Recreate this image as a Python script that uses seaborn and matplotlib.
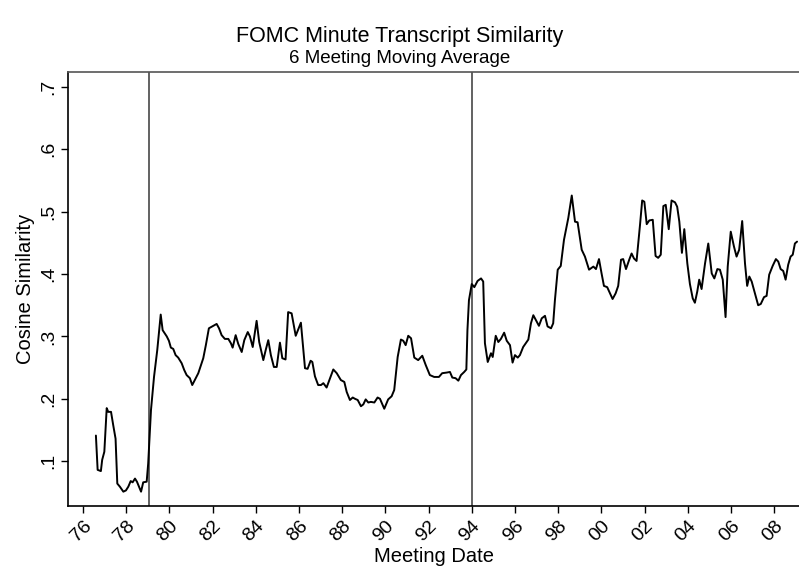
import numpy as np
import pandas as pd
import seaborn as sns
import matplotlib
matplotlib.use("Agg")
import matplotlib.pyplot as plt

# meeting date (decimal year) and 6-meeting moving average of cosine similarity
dates = [
    1976.60, 1976.68, 1976.83, 1976.89, 1976.99, 1977.10, 1977.17, 1977.30, 1977.40, 1977.51,
    1977.59, 1977.71, 1977.87, 1977.99, 1978.10, 1978.21, 1978.30, 1978.41, 1978.50, 1978.61,
    1978.69, 1978.79, 1978.95, 1979.02, 1979.15, 1979.29, 1979.44, 1979.60, 1979.69, 1979.88,
    1979.98, 1980.07, 1980.18, 1980.29, 1980.41, 1980.57, 1980.69, 1980.80, 1980.95, 1981.06,
    1981.21, 1981.34, 1981.57, 1981.69, 1981.83, 1982.03, 1982.19, 1982.30, 1982.42, 1982.57,
    1982.73, 1982.85, 1982.93, 1983.07, 1983.19, 1983.35, 1983.47, 1983.63, 1983.73, 1983.86,
    1984.04, 1984.16, 1984.35, 1984.46, 1984.58, 1984.70, 1984.84, 1984.97, 1985.12, 1985.23,
    1985.38, 1985.50, 1985.66, 1985.85, 1986.09, 1986.28, 1986.40, 1986.54, 1986.62, 1986.74,
    1986.89, 1987.02, 1987.13, 1987.28, 1987.44, 1987.59, 1987.75, 1987.94, 1988.10, 1988.21,
    1988.36, 1988.49, 1988.59, 1988.72, 1988.87, 1988.98, 1989.09, 1989.21, 1989.33, 1989.49,
    1989.64, 1989.75, 1989.95, 1990.13, 1990.29, 1990.41, 1990.57, 1990.72, 1990.83, 1990.94,
    1991.06, 1991.19, 1991.34, 1991.52, 1991.71, 1991.87, 1992.06, 1992.26, 1992.48, 1992.63,
    1992.84, 1992.99, 1993.10, 1993.25, 1993.38, 1993.50, 1993.65, 1993.75, 1993.80, 1993.87,
    1994.00, 1994.12, 1994.27, 1994.43, 1994.53, 1994.61, 1994.74, 1994.89, 1994.97, 1995.11,
    1995.23, 1995.35, 1995.50, 1995.62, 1995.77, 1995.89, 1996.00, 1996.13, 1996.23, 1996.38,
    1996.62, 1996.74, 1996.85, 1996.97, 1997.11, 1997.24, 1997.39, 1997.51, 1997.67, 1997.77,
    1997.85, 1997.98, 1998.12, 1998.27, 1998.47, 1998.63, 1998.78, 1998.90, 1999.09, 1999.24,
    1999.43, 1999.63, 1999.75, 1999.89, 2000.01, 2000.12, 2000.27, 2000.40, 2000.52, 2000.66,
    2000.78, 2000.91, 2001.01, 2001.14, 2001.29, 2001.40, 2001.51, 2001.63, 2001.79, 2001.89,
    2001.99, 2002.10, 2002.22, 2002.38, 2002.51, 2002.63, 2002.75, 2002.87, 2002.98, 2003.12,
    2003.25, 2003.41, 2003.51, 2003.61, 2003.73, 2003.84, 2003.98, 2004.10, 2004.23, 2004.33,
    2004.44, 2004.53, 2004.64, 2004.80, 2004.95, 2005.11, 2005.23, 2005.37, 2005.49, 2005.62,
    2005.75, 2005.85, 2005.99, 2006.14, 2006.26, 2006.38, 2006.52, 2006.65, 2006.75, 2006.85,
    2006.96, 2007.11, 2007.26, 2007.38, 2007.53, 2007.65, 2007.77, 2007.93, 2008.08, 2008.19,
    2008.30, 2008.42, 2008.53, 2008.65, 2008.76, 2008.86, 2008.96, 2009.06,
]
similarity = [
    0.141, 0.086, 0.084, 0.102, 0.115, 0.185, 0.179, 0.179, 0.158, 0.136,
    0.064, 0.059, 0.051, 0.053, 0.059, 0.068, 0.066, 0.072, 0.067, 0.058,
    0.051, 0.066, 0.067, 0.096, 0.182, 0.235, 0.278, 0.335, 0.310, 0.300,
    0.293, 0.282, 0.280, 0.270, 0.266, 0.257, 0.246, 0.238, 0.233, 0.222,
    0.232, 0.241, 0.265, 0.286, 0.313, 0.317, 0.320, 0.313, 0.302, 0.296,
    0.296, 0.289, 0.282, 0.302, 0.288, 0.275, 0.294, 0.307, 0.300, 0.283,
    0.325, 0.291, 0.262, 0.278, 0.294, 0.270, 0.251, 0.251, 0.290, 0.265,
    0.263, 0.339, 0.337, 0.301, 0.322, 0.249, 0.248, 0.261, 0.259, 0.236,
    0.222, 0.222, 0.225, 0.218, 0.233, 0.247, 0.241, 0.230, 0.227, 0.211,
    0.198, 0.202, 0.200, 0.198, 0.188, 0.191, 0.199, 0.194, 0.195, 0.194,
    0.202, 0.200, 0.184, 0.199, 0.204, 0.214, 0.267, 0.295, 0.293, 0.286,
    0.301, 0.297, 0.266, 0.262, 0.269, 0.254, 0.238, 0.235, 0.235, 0.241,
    0.242, 0.243, 0.234, 0.233, 0.229, 0.238, 0.243, 0.247, 0.310, 0.358,
    0.384, 0.379, 0.389, 0.393, 0.388, 0.289, 0.259, 0.273, 0.267, 0.301,
    0.291, 0.296, 0.306, 0.293, 0.286, 0.258, 0.270, 0.266, 0.270, 0.283,
    0.295, 0.321, 0.334, 0.326, 0.317, 0.329, 0.333, 0.316, 0.313, 0.321,
    0.358, 0.407, 0.413, 0.455, 0.490, 0.526, 0.484, 0.483, 0.439, 0.428,
    0.407, 0.412, 0.408, 0.424, 0.401, 0.381, 0.379, 0.369, 0.360, 0.369,
    0.381, 0.423, 0.424, 0.408, 0.423, 0.433, 0.425, 0.421, 0.479, 0.518,
    0.516, 0.480, 0.486, 0.487, 0.429, 0.426, 0.431, 0.509, 0.511, 0.472,
    0.518, 0.515, 0.508, 0.484, 0.434, 0.472, 0.417, 0.384, 0.361, 0.354,
    0.372, 0.391, 0.376, 0.417, 0.449, 0.401, 0.393, 0.408, 0.407, 0.391,
    0.331, 0.412, 0.468, 0.444, 0.428, 0.439, 0.485, 0.417, 0.381, 0.396,
    0.388, 0.369, 0.350, 0.352, 0.363, 0.365, 0.399, 0.413, 0.424, 0.420,
    0.408, 0.405, 0.391, 0.415, 0.428, 0.431, 0.449, 0.452,
]
regime_lines = [1979.05, 1994.0]
x_ticks = list(range(1976, 2009, 2))
x_labels = [f"{y % 100:02d}" for y in x_ticks]
y_ticks = [0.1, 0.2, 0.3, 0.4, 0.5, 0.6, 0.7]
y_labels = [".1", ".2", ".3", ".4", ".5", ".6", ".7"]

df = pd.DataFrame({"date": dates, "sim": similarity})

sns.set_style("white")
plt.rcParams["font.family"] = ["Liberation Sans", "DejaVu Sans"]
plt.rcParams.update({"text.color": "black", "axes.labelcolor": "black",
                     "xtick.color": "black", "ytick.color": "black"})

fig = plt.figure(figsize=(7.99, 5.73), dpi=100)
ax = fig.add_axes([0.0857, 0.1169, 0.9143, 0.7574])

for v in regime_lines:
    ax.axvline(v, color="#555555", lw=1.3, zorder=1)

sns.lineplot(data=df, x="date", y="sim", color="black", lw=1.4, ax=ax, zorder=2)

ax.set_xlim(1975.33, 2009.15)
ax.set_ylim(0.028, 0.724)
ax.set_xticks(x_ticks)
ax.set_xticklabels(x_labels, rotation=45, ha="right", rotation_mode="anchor", fontsize=14)
ax.set_yticks(y_ticks)
ax.set_yticklabels(y_labels, rotation=90, va="center", fontsize=14)
ax.tick_params(axis="both", direction="out", length=5, width=1,
               bottom=True, left=True, pad=3)

for s in ["left", "bottom"]:
    ax.spines[s].set_color("black")
    ax.spines[s].set_linewidth(1.2)
ax.spines["top"].set_color("#555555")
ax.spines["top"].set_linewidth(1.2)
ax.spines["right"].set_visible(False)

ax.set_xlabel("Meeting Date", fontsize=14.5, labelpad=2)
ax.set_ylabel("Cosine Similarity", fontsize=14.5, labelpad=4)

fig.text(0.5, 0.937, "FOMC Minute Transcript Similarity", ha="center", va="center", fontsize=15.5)
fig.text(0.5, 0.898, "6 Meeting Moving Average", ha="center", va="center", fontsize=13.5)

fig.savefig("out.png", dpi=100)
